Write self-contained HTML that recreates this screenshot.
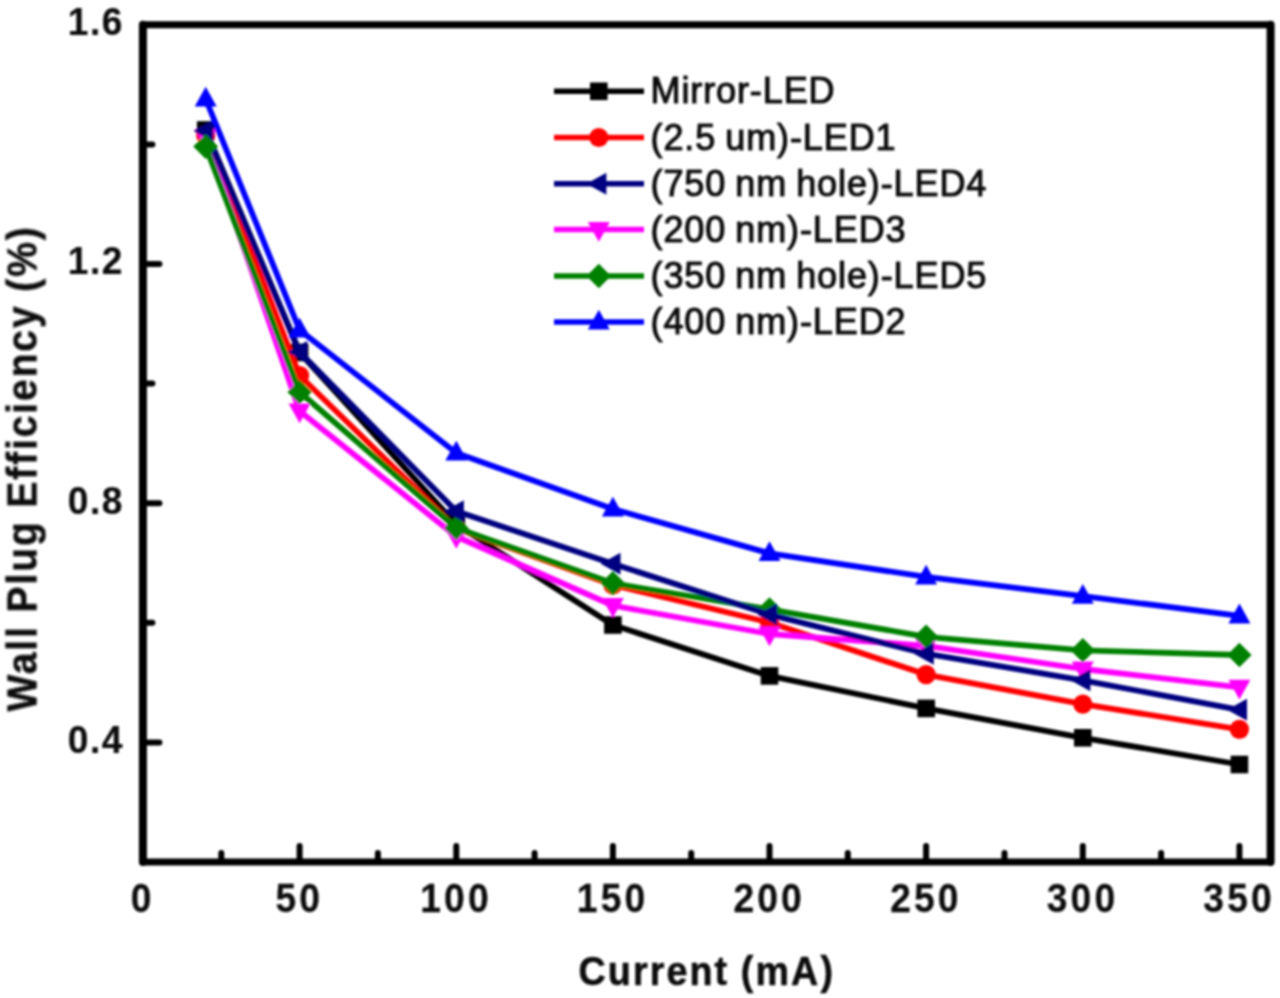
<!DOCTYPE html>
<html><head><meta charset="utf-8"><title>Wall Plug Efficiency vs Current</title>
<style>
html,body{margin:0;padding:0;background:#fff;}
body{width:1280px;height:998px;overflow:hidden;}
svg{display:block;}
text{font-family:"Liberation Sans",Arial,sans-serif;fill:#111;stroke:#111;stroke-width:0.7px;stroke-linejoin:round;}
.b{font-weight:bold;stroke-width:0.25px;}
</style></head><body>
<svg width="1280" height="998" viewBox="0 0 1280 998">
<rect width="1280" height="998" fill="#ffffff"/>
<g id="chart" filter="url(#soft)">
<defs><filter id="soft" x="-2%" y="-2%" width="104%" height="104%"><feGaussianBlur stdDeviation="1.2"/></filter></defs>

<path d="M142.9,24.75H1270.6M142.9,862.0H1270.6" fill="none" stroke="#000" stroke-width="6.9" stroke-linecap="round"/>
<path d="M142.9,24.75V862.0M1270.6,24.75V862.0" fill="none" stroke="#000" stroke-width="8.0" stroke-linecap="round"/>
<line x1="221.3" y1="862.0" x2="221.3" y2="853.0" stroke="#000" stroke-width="6.0" stroke-linecap="round"/>
<line x1="299.6" y1="862.0" x2="299.6" y2="846.0" stroke="#000" stroke-width="6.0" stroke-linecap="round"/>
<line x1="377.9" y1="862.0" x2="377.9" y2="853.0" stroke="#000" stroke-width="6.0" stroke-linecap="round"/>
<line x1="456.3" y1="862.0" x2="456.3" y2="846.0" stroke="#000" stroke-width="6.0" stroke-linecap="round"/>
<line x1="534.6" y1="862.0" x2="534.6" y2="853.0" stroke="#000" stroke-width="6.0" stroke-linecap="round"/>
<line x1="612.9" y1="862.0" x2="612.9" y2="846.0" stroke="#000" stroke-width="6.0" stroke-linecap="round"/>
<line x1="691.2" y1="862.0" x2="691.2" y2="853.0" stroke="#000" stroke-width="6.0" stroke-linecap="round"/>
<line x1="769.5" y1="862.0" x2="769.5" y2="846.0" stroke="#000" stroke-width="6.0" stroke-linecap="round"/>
<line x1="847.8" y1="862.0" x2="847.8" y2="853.0" stroke="#000" stroke-width="6.0" stroke-linecap="round"/>
<line x1="926.1" y1="862.0" x2="926.1" y2="846.0" stroke="#000" stroke-width="6.0" stroke-linecap="round"/>
<line x1="1004.5" y1="862.0" x2="1004.5" y2="853.0" stroke="#000" stroke-width="6.0" stroke-linecap="round"/>
<line x1="1082.8" y1="862.0" x2="1082.8" y2="846.0" stroke="#000" stroke-width="6.0" stroke-linecap="round"/>
<line x1="1161.1" y1="862.0" x2="1161.1" y2="853.0" stroke="#000" stroke-width="6.0" stroke-linecap="round"/>
<line x1="1239.4" y1="862.0" x2="1239.4" y2="846.0" stroke="#000" stroke-width="6.0" stroke-linecap="round"/>
<line x1="142.9" y1="742.4" x2="159.4" y2="742.4" stroke="#000" stroke-width="6.0" stroke-linecap="round"/>
<line x1="142.9" y1="622.8" x2="152.4" y2="622.8" stroke="#000" stroke-width="6.0" stroke-linecap="round"/>
<line x1="142.9" y1="503.2" x2="159.4" y2="503.2" stroke="#000" stroke-width="6.0" stroke-linecap="round"/>
<line x1="142.9" y1="383.6" x2="152.4" y2="383.6" stroke="#000" stroke-width="6.0" stroke-linecap="round"/>
<line x1="142.9" y1="264.0" x2="159.4" y2="264.0" stroke="#000" stroke-width="6.0" stroke-linecap="round"/>
<line x1="142.9" y1="144.4" x2="152.4" y2="144.4" stroke="#000" stroke-width="6.0" stroke-linecap="round"/>
<polyline points="205.7,130.0 299.6,352.5 456.3,524.5 612.9,625.0 769.5,675.9 926.1,708.4 1082.8,737.8 1239.4,764.5" fill="none" stroke="#000000" stroke-width="5.8" stroke-linejoin="round"/>
<rect x="196.9" y="121.2" width="17.6" height="17.6" fill="#000000"/>
<rect x="290.8" y="343.7" width="17.6" height="17.6" fill="#000000"/>
<rect x="447.5" y="515.7" width="17.6" height="17.6" fill="#000000"/>
<rect x="604.1" y="616.2" width="17.6" height="17.6" fill="#000000"/>
<rect x="760.7" y="667.1" width="17.6" height="17.6" fill="#000000"/>
<rect x="917.4" y="699.6" width="17.6" height="17.6" fill="#000000"/>
<rect x="1074.0" y="729.0" width="17.6" height="17.6" fill="#000000"/>
<rect x="1230.6" y="755.7" width="17.6" height="17.6" fill="#000000"/>
<polyline points="205.7,135.0 299.6,375.5 456.3,528.5 612.9,585.0 769.5,622.5 926.1,674.6 1082.8,704.1 1239.4,729.4" fill="none" stroke="#ff0000" stroke-width="5.8" stroke-linejoin="round"/>
<circle cx="205.7" cy="135.0" r="9.6" fill="#ff0000"/>
<circle cx="299.6" cy="375.5" r="9.6" fill="#ff0000"/>
<circle cx="456.3" cy="528.5" r="9.6" fill="#ff0000"/>
<circle cx="612.9" cy="585.0" r="9.6" fill="#ff0000"/>
<circle cx="769.5" cy="622.5" r="9.6" fill="#ff0000"/>
<circle cx="926.1" cy="674.6" r="9.6" fill="#ff0000"/>
<circle cx="1082.8" cy="704.1" r="9.6" fill="#ff0000"/>
<circle cx="1239.4" cy="729.4" r="9.6" fill="#ff0000"/>
<polyline points="205.7,136.5 299.6,411.0 456.3,536.5 612.9,605.5 769.5,634.0 926.1,645.9 1082.8,669.0 1239.4,687.3" fill="none" stroke="#ff00ff" stroke-width="5.8" stroke-linejoin="round"/>
<polygon points="205.7,148.7 194.7,128.9 216.7,128.9" fill="#ff00ff"/>
<polygon points="299.6,423.2 288.6,403.4 310.6,403.4" fill="#ff00ff"/>
<polygon points="456.3,548.7 445.3,528.9 467.3,528.9" fill="#ff00ff"/>
<polygon points="612.9,617.7 601.9,597.9 623.9,597.9" fill="#ff00ff"/>
<polygon points="769.5,646.2 758.5,626.4 780.5,626.4" fill="#ff00ff"/>
<polygon points="926.1,658.1 915.1,638.3 937.1,638.3" fill="#ff00ff"/>
<polygon points="1082.8,681.2 1071.8,661.4 1093.8,661.4" fill="#ff00ff"/>
<polygon points="1239.4,699.5 1228.4,679.7 1250.4,679.7" fill="#ff00ff"/>
<polyline points="205.7,146.5 299.6,392.0 456.3,528.0 612.9,583.3 769.5,609.4 926.1,636.8 1082.8,650.3 1239.4,655.0" fill="none" stroke="#008000" stroke-width="5.8" stroke-linejoin="round"/>
<polygon points="205.7,134.3 217.9,146.5 205.7,158.7 193.5,146.5" fill="#008000"/>
<polygon points="299.6,379.8 311.8,392.0 299.6,404.2 287.4,392.0" fill="#008000"/>
<polygon points="456.3,515.8 468.5,528.0 456.3,540.2 444.1,528.0" fill="#008000"/>
<polygon points="612.9,571.1 625.1,583.3 612.9,595.5 600.7,583.3" fill="#008000"/>
<polygon points="769.5,597.2 781.7,609.4 769.5,621.6 757.3,609.4" fill="#008000"/>
<polygon points="926.1,624.6 938.4,636.8 926.1,649.0 913.9,636.8" fill="#008000"/>
<polygon points="1082.8,638.1 1095.0,650.3 1082.8,662.5 1070.6,650.3" fill="#008000"/>
<polygon points="1239.4,642.8 1251.6,655.0 1239.4,667.2 1227.2,655.0" fill="#008000"/>
<polyline points="205.7,131.0 299.6,352.0 456.3,511.2 612.9,563.8 769.5,614.6 926.1,653.7 1082.8,680.3 1239.4,709.8" fill="none" stroke="#000080" stroke-width="5.8" stroke-linejoin="round"/>
<polygon points="193.5,131.0 213.3,120.0 213.3,142.0" fill="#000080"/>
<polygon points="287.4,352.0 307.2,341.0 307.2,363.0" fill="#000080"/>
<polygon points="444.1,511.2 463.9,500.2 463.9,522.2" fill="#000080"/>
<polygon points="600.7,563.8 620.5,552.8 620.5,574.8" fill="#000080"/>
<polygon points="757.3,614.6 777.1,603.6 777.1,625.6" fill="#000080"/>
<polygon points="913.9,653.7 933.8,642.7 933.8,664.7" fill="#000080"/>
<polygon points="1070.6,680.3 1090.4,669.3 1090.4,691.3" fill="#000080"/>
<polygon points="1227.2,709.8 1247.0,698.8 1247.0,720.8" fill="#000080"/>
<polygon points="205.7,134.3 217.9,146.5 205.7,158.7 193.5,146.5" fill="#008000"/>
<polyline points="205.7,99.0 299.6,330.0 456.3,453.0 612.9,509.0 769.5,553.4 926.1,576.9 1082.8,596.1 1239.4,615.8" fill="none" stroke="#0000ff" stroke-width="5.8" stroke-linejoin="round"/>
<polygon points="205.7,86.8 194.7,106.6 216.7,106.6" fill="#0000ff"/>
<polygon points="299.6,317.8 288.6,337.6 310.6,337.6" fill="#0000ff"/>
<polygon points="456.3,440.8 445.3,460.6 467.3,460.6" fill="#0000ff"/>
<polygon points="612.9,496.8 601.9,516.6 623.9,516.6" fill="#0000ff"/>
<polygon points="769.5,541.2 758.5,561.0 780.5,561.0" fill="#0000ff"/>
<polygon points="926.1,564.7 915.1,584.5 937.1,584.5" fill="#0000ff"/>
<polygon points="1082.8,583.9 1071.8,603.7 1093.8,603.7" fill="#0000ff"/>
<polygon points="1239.4,603.6 1228.4,623.4 1250.4,623.4" fill="#0000ff"/>
<line x1="554" y1="91.25" x2="644" y2="91.25" stroke="#000000" stroke-width="5.6"/>
<rect x="590.0" y="82.5" width="17.6" height="17.6" fill="#000000"/>
<text x="650.5" y="103.2" font-size="36" letter-spacing="0.9" word-spacing="-1.8" style="stroke-width:1.1px">Mirror-LED</text>
<line x1="554" y1="137.5" x2="644" y2="137.5" stroke="#ff0000" stroke-width="5.6"/>
<circle cx="598.8" cy="137.5" r="9.6" fill="#ff0000"/>
<text x="650.5" y="149.5" font-size="36" letter-spacing="0.9" word-spacing="-1.8" style="stroke-width:1.1px">(2.5 um)-LED1</text>
<line x1="554" y1="183.75" x2="644" y2="183.75" stroke="#000080" stroke-width="5.6"/>
<polygon points="586.5,183.8 606.4,172.8 606.4,194.8" fill="#000080"/>
<text x="650.5" y="195.8" font-size="36" letter-spacing="0.9" word-spacing="-1.8" style="stroke-width:1.1px">(750 nm hole)-LED4</text>
<line x1="554" y1="229.5" x2="644" y2="229.5" stroke="#ff00ff" stroke-width="5.6"/>
<polygon points="598.8,241.7 587.8,221.9 609.8,221.9" fill="#ff00ff"/>
<text x="650.5" y="241.5" font-size="36" letter-spacing="0.9" word-spacing="-1.8" style="stroke-width:1.1px">(200 nm)-LED3</text>
<line x1="554" y1="276" x2="644" y2="276" stroke="#008000" stroke-width="5.6"/>
<polygon points="598.8,263.8 611.0,276.0 598.8,288.2 586.5,276.0" fill="#008000"/>
<text x="650.5" y="288.0" font-size="36" letter-spacing="0.9" word-spacing="-1.8" style="stroke-width:1.1px">(350 nm hole)-LED5</text>
<line x1="554" y1="322" x2="644" y2="322" stroke="#0000ff" stroke-width="5.6"/>
<polygon points="598.8,309.8 587.8,329.6 609.8,329.6" fill="#0000ff"/>
<text x="650.5" y="334.0" font-size="36" letter-spacing="0.9" word-spacing="-1.8" style="stroke-width:1.1px">(400 nm)-LED2</text>
<text class="b" transform="translate(124.0,35.1) scale(0.94,1)" font-size="39.5" text-anchor="end" letter-spacing="1.6">1.6</text>
<text class="b" transform="translate(124.0,274.4) scale(0.94,1)" font-size="39.5" text-anchor="end" letter-spacing="1.6">1.2</text>
<text class="b" transform="translate(124.0,513.6) scale(0.94,1)" font-size="39.5" text-anchor="end" letter-spacing="1.6">0.8</text>
<text class="b" transform="translate(124.0,752.8) scale(0.94,1)" font-size="39.5" text-anchor="end" letter-spacing="1.6">0.4</text>
<text class="b" transform="translate(142.7,911.5) scale(0.92,1)" font-size="40.5" text-anchor="middle" letter-spacing="3.4">0</text>
<text class="b" transform="translate(299.3,911.5) scale(0.92,1)" font-size="40.5" text-anchor="middle" letter-spacing="3.4">50</text>
<text class="b" transform="translate(456.0,911.5) scale(0.92,1)" font-size="40.5" text-anchor="middle" letter-spacing="3.4">100</text>
<text class="b" transform="translate(612.6,911.5) scale(0.92,1)" font-size="40.5" text-anchor="middle" letter-spacing="3.4">150</text>
<text class="b" transform="translate(769.2,911.5) scale(0.92,1)" font-size="40.5" text-anchor="middle" letter-spacing="3.4">200</text>
<text class="b" transform="translate(925.9,911.5) scale(0.92,1)" font-size="40.5" text-anchor="middle" letter-spacing="3.4">250</text>
<text class="b" transform="translate(1082.5,911.5) scale(0.92,1)" font-size="40.5" text-anchor="middle" letter-spacing="3.4">300</text>
<text class="b" transform="translate(1239.1,911.5) scale(0.92,1)" font-size="40.5" text-anchor="middle" letter-spacing="3.4">350</text>
<text class="b" transform="translate(578.5,985) scale(0.965,1.035)" style="stroke-width:0.6px" font-size="39" letter-spacing="2.2" word-spacing="-1">Current (mA)</text>
<text class="b" transform="translate(36.2,711.5) rotate(-90) scale(1,1.1)" style="stroke-width:0.5px" font-size="39" letter-spacing="1.9">Wall Plug Efficiency (%)</text>
</g></svg></body></html>
